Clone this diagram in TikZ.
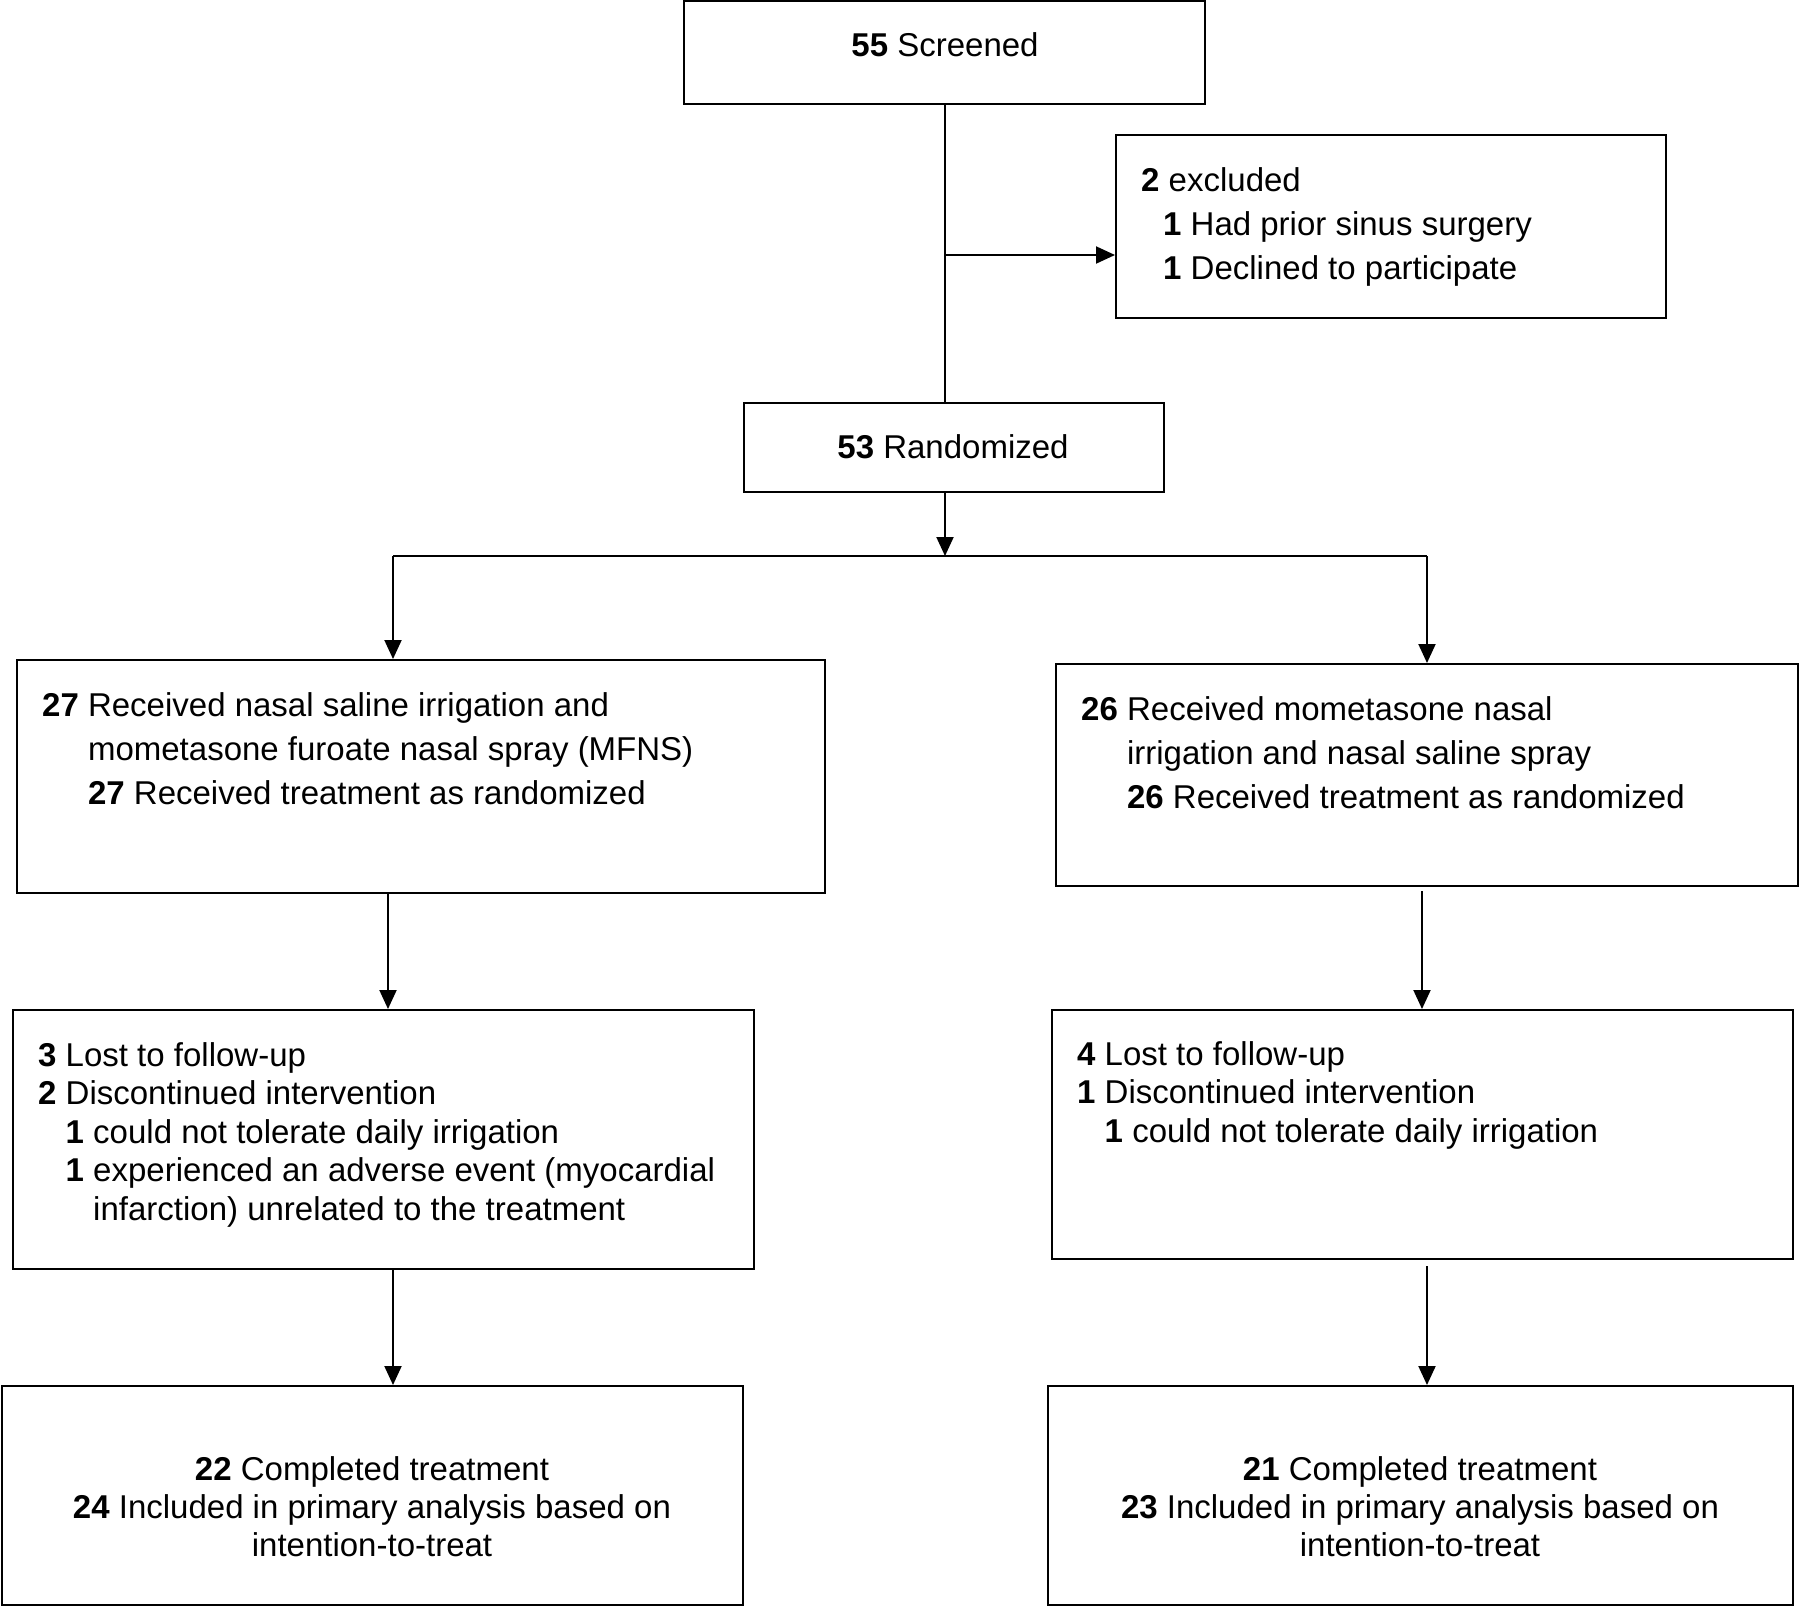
\documentclass[tikz,border=0pt]{standalone}
\usepackage{fontspec}
\setmainfont{Liberation Sans}
\usetikzlibrary{arrows.meta}
\begin{document}
\begin{tikzpicture}[x=1pt,y=-1pt,
  box/.style={draw,line width=2pt,rectangle,inner sep=0pt},
  txt/.style={inner sep=0pt,align=left,font=\fontsize{33}{44}\selectfont},
  txtb/.style={inner sep=0pt,align=left,font=\fontsize{33}{38.5}\selectfont},
  txtc/.style={inner sep=0pt,align=center,font=\fontsize{33}{38}\selectfont},
  conn/.style={line width=2pt},
  arr/.style={line width=2pt,-{Triangle[length=19pt,width=17pt]}}]
\useasboundingbox (0,0) rectangle (1800,1607);
% boxes
\node[box,minimum width=521pt,minimum height=103pt] (scr) at (944.5,52.5) {};
\node[box,minimum width=550pt,minimum height=183pt] (exc) at (1391,226.5) {};
\node[box,minimum width=420pt,minimum height=89pt] (rnd) at (954,447.5) {};
\node[box,minimum width=808pt,minimum height=233pt] (L1) at (421,776.5) {};
\node[box,minimum width=742pt,minimum height=222pt] (R1) at (1427,775) {};
\node[box,minimum width=741pt,minimum height=259pt] (L2) at (383.5,1139.5) {};
\node[box,minimum width=741pt,minimum height=249pt] (R2) at (1422.5,1134.5) {};
\node[box,minimum width=741pt,minimum height=219pt] (L3) at (372.5,1495.5) {};
\node[box,minimum width=745pt,minimum height=219pt] (R3) at (1420.5,1495.5) {};
% texts
\node[txt] (tscr) at (945,45) {\textbf{55} Screened};
\node[txt,anchor=west] (texc) at (1141,226.5) {\textbf{2} excluded\\
\hspace*{22pt}\textbf{1} Had prior sinus surgery\\
\hspace*{22pt}\textbf{1} Declined to participate};
\node[txt] (trnd) at (953,447) {\textbf{53} Randomized};
\node[txt,anchor=west] (tL1) at (42,749) {\textbf{27} Received nasal saline irrigation and\\
\hphantom{\textbf{27} }mometasone furoate nasal spray (MFNS)\\
\hphantom{\textbf{27} }\textbf{27} Received treatment as randomized};
\node[txt,anchor=west] (tR1) at (1081,753) {\textbf{26} Received mometasone nasal\\
\hphantom{\textbf{26} }irrigation and nasal saline spray\\
\hphantom{\textbf{26} }\textbf{26} Received treatment as randomized};
\node[txtb,anchor=west] (tL2) at (38,1134.5) {\textbf{3} Lost to follow-up\\
\textbf{2} Discontinued intervention\\
\hphantom{\textbf{3} }\textbf{1} could not tolerate daily irrigation\\
\hphantom{\textbf{3} }\textbf{1} experienced an adverse event (myocardial\\
\hphantom{\textbf{3} \textbf{1} }infarction) unrelated to the treatment};
\node[txtb,anchor=west] (tR2) at (1077,1095) {\textbf{4} Lost to follow-up\\
\textbf{1} Discontinued intervention\\
\hphantom{\textbf{4} }\textbf{1} could not tolerate daily irrigation};
\node[txtc] (tL3) at (372,1507) {\textbf{22} Completed treatment\\
\textbf{24} Included in primary analysis based on\\
intention-to-treat};
\node[txtc] (tR3) at (1420,1507) {\textbf{21} Completed treatment\\
\textbf{23} Included in primary analysis based on\\
intention-to-treat};
% connectors
\coordinate (mx) at (945,0);
\coordinate (ex) at (945,255);
\coordinate (split) at (945,556);
\coordinate (sl) at (393,556);
\coordinate (sr) at (1427,556);
\coordinate (l12) at (388,0);
\coordinate (r12) at (1422,0);
\coordinate (l23) at (393,0);
\coordinate (r23) at (1427,0);
\draw[conn] (mx |- scr.south) -- (mx |- rnd.north);
\draw[arr] (ex) -- (ex -| exc.west);
\draw[arr] (mx |- rnd.south) -- (split);
\draw[conn] (sl) -- (sr);
\draw[arr] (sl) -- (sl |- L1.north);
\draw[arr] (sr) -- (sr |- R1.north);
\draw[arr] (l12 |- L1.south) -- (l12 |- L2.north);
\draw[arr] (r12 |- R1.south) ++(0,4) -- (r12 |- R2.north);
\draw[arr] (l23 |- L2.south) -- (l23 |- L3.north);
\draw[arr] (r23 |- R2.south) ++(0,6) -- (r23 |- R3.north);
\end{tikzpicture}
\end{document}
